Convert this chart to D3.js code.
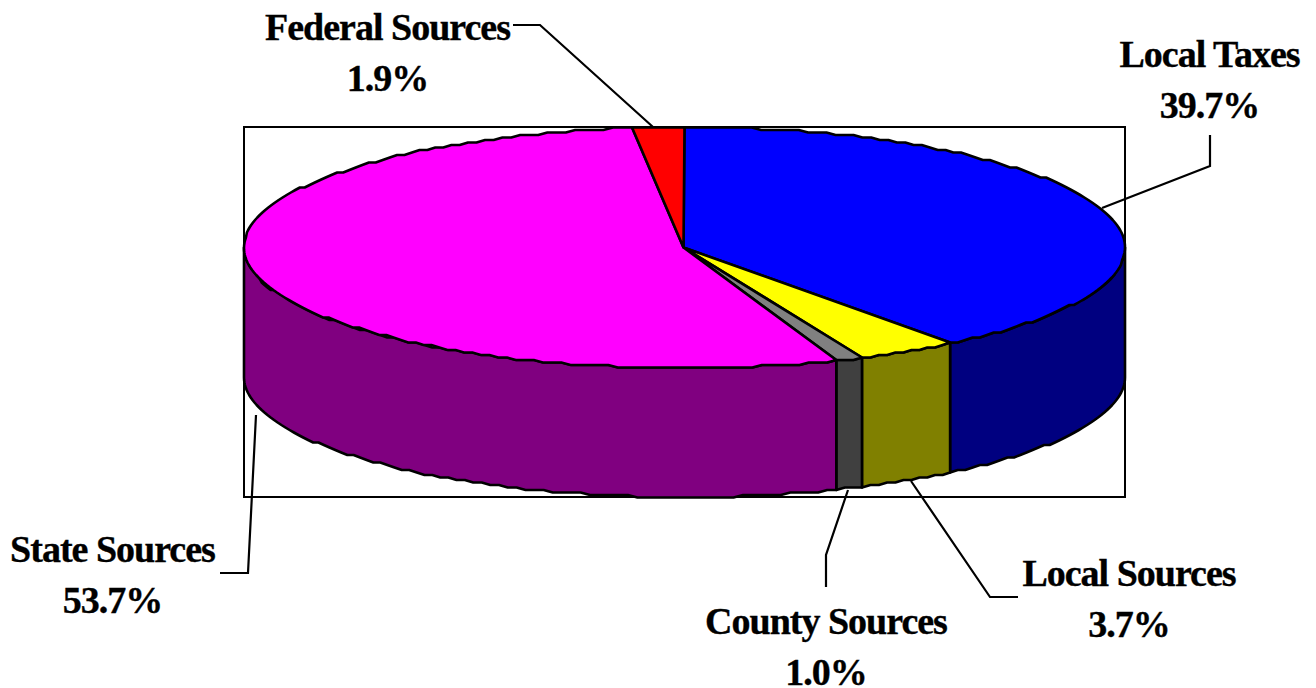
<!DOCTYPE html>
<html><head><meta charset="utf-8">
<script src="https://cdnjs.cloudflare.com/ajax/libs/d3/7.8.5/d3.min.js"></script>
<style>html,body{margin:0;padding:0;background:#fff}svg{display:block}
text{font-family:"Liberation Serif","Times New Roman",serif;font-weight:bold;font-size:38px;fill:#000;stroke:#000;stroke-width:0.35px;letter-spacing:-1px}</style>
</head><body><svg id="c" width="1316" height="688"></svg>
<script>
const categories=["Local Taxes","Local Sources","County Sources","State Sources","Federal Sources"];
const shares=[39.7,3.7,1.0,53.7,1.9];
const topColors=["#0000ff","#ffff00","#808080","#ff00ff","#ff0000"];
const sideColors=["#000080","#808000","#404040","#800080","#800000"];
const labelX=[1209.5,1129,826,112.5,387.5];
const labelY=[67,586,634,562,40];
const leaders=[
 [[1210,135],[1210,166],[1102,208]],
 [[1018,597],[990,597],[911,481]],
 [[826,587],[826,555],[848,490]],
 [[220,573],[248,573],[256,415]],
 [[513,25],[540,25],[653,127]]];

const svg=d3.select("#c");
const X=d3.scaleLinear().domain([-1,1]).range([244,1125]);
const Y=d3.scaleLinear().domain([-1,1]).range([127,368]);
const depth=129;
const line=d3.line().curve(d3.curveLinear);
const pie=d3.pie().sort(null).value(d=>d)(shares);
// points on the ellipse rim, snapped to a coarse device grid as in the source's low-res rendering
const rim=(a,dy=0)=>[X(Math.sin(a)),Math.round((Y(-Math.cos(a))+dy)/2.5)*2.5];
function arcPts(a0,a1,dy=0){
  const n=Math.max(1,Math.ceil(Math.abs(a1-a0)/0.022));
  return d3.range(n+1).map(i=>rim(a0+(a1-a0)*i/n,dy));
}
svg.append("rect").attr("x",244).attr("y",127).attr("width",881).attr("height",370)
  .attr("fill","#fff").attr("stroke","#000").attr("stroke-width",2);
const PI=Math.PI;
pie.forEach((d,i)=>{
  const a0=Math.max(d.startAngle,PI/2), a1=Math.min(d.endAngle,3*PI/2);
  if(a1<=a0) return;
  const pts=arcPts(a0,a1,0).concat(arcPts(a1,a0,depth));
  svg.append("path").attr("d",line(pts)+"Z").attr("fill",sideColors[i])
    .attr("stroke","#000").attr("stroke-width",2.6).attr("stroke-linejoin","round");
});
pie.forEach((d,i)=>{
  const pts=[[X(0)-1,Y(0)]].concat(arcPts(d.startAngle,d.endAngle,0));
  svg.append("path").attr("d",line(pts)+"Z").attr("fill",topColors[i])
    .attr("stroke","#000").attr("stroke-width",2.6).attr("stroke-linejoin","round");
});
leaders.forEach(l=>svg.append("path").attr("d",line(l)).attr("fill","none").attr("stroke","#000").attr("stroke-width",2.2));
categories.forEach((c,i)=>{
  const t=svg.append("text").attr("text-anchor","middle");
  t.append("tspan").attr("x",labelX[i]).attr("y",labelY[i]).text(c);
  t.append("tspan").attr("x",labelX[i]).attr("y",labelY[i]+51).text(d3.format(".1f")(shares[i])+"%");
});
</script></body></html>
